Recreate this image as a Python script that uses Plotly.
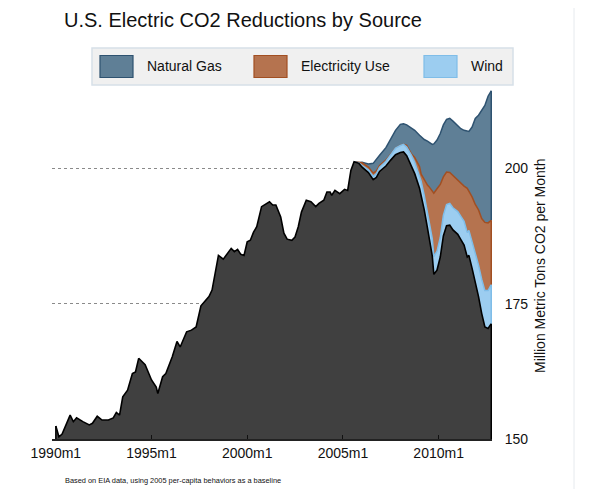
import plotly.graph_objects as go

# ---------------- data ----------------
black_dates = [
    "1990-01", "1990-03", "1990-05", "1990-10", "1990-12", "1991-02", "1991-06", "1991-10", "1991-12",
    "1992-03", "1992-06", "1992-10", "1993-01", "1993-03", "1993-05", "1993-07", "1993-10",
    "1994-01", "1994-03", "1994-05", "1994-09", "1995-01", "1995-04", "1995-05", "1995-08", "1995-10",
    "1996-02", "1996-05", "1996-07", "1996-11", "1997-02", "1997-05", "1997-08", "1997-11",
    "1998-01", "1998-03", "1998-05", "1998-07", "1998-10", "1999-03", "1999-05", "1999-07", "1999-09", "1999-11",
    "2000-01", "2000-03", "2000-05", "2000-07", "2000-10", "2001-01", "2001-03", "2001-05", "2001-07", "2001-10", "2001-12",
    "2002-02", "2002-05", "2002-07", "2002-09", "2002-11", "2003-02", "2003-05", "2003-08", "2003-10",
    "2004-01", "2004-03", "2004-05", "2004-06", "2004-08", "2004-11", "2005-02", "2005-04", "2005-06",
    "2005-08", "2005-11", "2006-01", "2006-05", "2006-08", "2006-10", "2006-12", "2007-04", "2007-07", "2007-10",
    "2008-01", "2008-03", "2008-05", "2008-08", "2008-10", "2009-01", "2009-02", "2009-04", "2009-06", "2009-07",
    "2009-09", "2009-10", "2009-12", "2010-02", "2010-04", "2010-06", "2010-08", "2010-10", "2011-01", "2011-03",
    "2011-05", "2011-07", "2011-08", "2011-10", "2011-12", "2012-02", "2012-04", "2012-06", "2012-08", "2012-10",
]
black_vals = [
    152.4, 150.4, 150.9, 154.4, 153.2, 153.9, 153.2, 152.6, 152.9,
    154.2, 153.5, 153.5, 153.9, 154.9, 154.4, 157.8, 159.0,
    162.1, 162.4, 164.9, 163.7, 160.9, 159.6, 158.4, 161.5, 162.1,
    165.2, 168.0, 167.0, 169.8, 170.1, 170.7, 174.6, 175.6,
    176.3, 177.5, 180.6, 183.9, 183.2, 185.2, 184.6, 185.0, 184.1, 183.9,
    186.4, 186.7, 188.2, 189.2, 192.9, 193.5, 193.8, 193.2, 193.2, 191.0, 188.0,
    186.9, 186.7, 187.3, 189.2, 191.9, 194.1, 193.8, 192.9, 193.5,
    194.1, 195.6, 195.6, 195.0, 195.9, 195.3, 196.1, 195.9, 199.6,
    201.2, 200.9, 200.2, 199.2, 197.9, 198.3, 199.4, 200.4, 201.5, 202.5,
    202.9, 203.0, 202.3, 200.5, 199.0, 196.3, 195.1, 192.3, 189.0, 187.3,
    183.8, 180.4, 181.2, 183.6, 187.5, 189.4, 189.5, 188.6, 187.8, 186.8,
    185.8, 183.6, 183.9, 181.5, 179.0, 176.3, 173.2, 170.7, 170.4, 171.3,
]

# reductions stacked above actual emissions (from 2005m8 on)
rec_dates = black_dates[black_dates.index("2005-08"):]
wind = [0.0, 0.1, 0.3, 0.5, 0.6, 0.7, 0.8, 0.9, 1.0, 1.2,
        1.3, 1.4, 1.6, 1.9, 2.1, 2.4, 2.5, 2.7, 2.9, 3.0,
        3.2, 3.3, 3.5, 3.6, 3.8, 3.9, 4.0, 4.1, 4.2, 4.3,
        4.4, 4.5, 4.6, 4.9, 5.3, 5.8, 6.3, 6.7, 7.0, 7.2]
elec = [0.0, 0.0, 0.5, 0.5, 0.6, 0.5, 0.3, 0.2, 0.1, 0.0,
        0.0, 0.0, 0.3, 0.2, 0.9, 1.6, 1.3, 2.8, 5.0, 6.3,
        8.7, 11.7, 11.5, 9.8, 7.1, 6.0, 5.7, 5.9, 5.8, 6.1,
        6.5, 8.2, 7.3, 8.3, 9.0, 10.2, 11.2, 12.6, 12.5, 11.9]
gas = [0.0, 0.0, 0.1, 0.6, 1.8, 2.2, 1.9, 2.3, 2.8, 3.3,
       3.9, 3.8, 3.8, 4.8, 5.0, 5.8, 6.9, 7.5, 8.1, 8.2,
       8.7, 9.1, 9.0, 9.4, 9.6, 9.7, 10.0, 10.1, 10.0, 10.1,
       10.3, 10.5, 11.0, 12.9, 15.9, 17.5, 19.9, 21.6, 23.4, 23.9]

series_names = ["Natural Gas", "Electricity Use", "Wind"]
x_tickvals = ["1990-01-01", "1995-01-01", "2000-01-01", "2005-01-01", "2010-01-01"]
x_ticktext = ["1990m1", "1995m1", "2000m1", "2005m1", "2010m1"]
y_tickvals = [150, 175, 200]

# ---------------- styles ----------------
FONT = "Liberation Sans, Arial, Helvetica, sans-serif"
C_BLACK_FILL, C_BLACK_LINE = "#404040", "#000000"
C_GAS_FILL, C_GAS_LINE = "#5f7f96", "#2e5270"
C_ELEC_FILL, C_ELEC_LINE = "#b5734f", "#a24f22"
C_WIND_FILL, C_WIND_LINE = "#9ccdf0", "#7fbde8"

# cumulative tops
bmap = dict(zip(black_dates, black_vals))
base = [bmap[d] for d in rec_dates]
wind_top = [b + w for b, w in zip(base, wind)]
elec_top = [t + e for t, e in zip(wind_top, elec)]
gas_top = [t + g for t, g in zip(elec_top, gas)]

fig = go.Figure()
for ys, fc, lc in [(gas_top, C_GAS_FILL, C_GAS_LINE),
                   (elec_top, C_ELEC_FILL, C_ELEC_LINE),
                   (wind_top, C_WIND_FILL, C_WIND_LINE)]:
    fig.add_trace(go.Scatter(x=rec_dates, y=ys, mode="lines", fill="tozeroy",
                             fillcolor=fc, line=dict(color=lc, width=1.5),
                             showlegend=False, hoverinfo="skip"))
fig.add_trace(go.Scatter(x=black_dates, y=black_vals, mode="lines", fill="tozeroy",
                         fillcolor=C_BLACK_FILL, line=dict(color=C_BLACK_LINE, width=1.6),
                         showlegend=False, hoverinfo="skip"))

# vertical outline edges of the areas (from data ends)
last = rec_dates[-1]
for lo, hi, lc in [(elec_top[-1], gas_top[-1], C_GAS_LINE),
                   (wind_top[-1], elec_top[-1], C_ELEC_LINE),
                   (base[-1], wind_top[-1], C_WIND_LINE),
                   (150, base[-1], C_BLACK_LINE)]:
    fig.add_trace(go.Scatter(x=[last, last], y=[lo, hi], mode="lines",
                             line=dict(color=lc, width=1.5), showlegend=False, hoverinfo="skip"))
fig.add_trace(go.Scatter(x=[black_dates[0], black_dates[0]], y=[150, black_vals[0]], mode="lines",
                         line=dict(color=C_BLACK_LINE, width=1.5), showlegend=False, hoverinfo="skip"))

# ---------------- layout ----------------
OFF = 8                      # page body margin of the browser
W, H = 600 - OFF, 489 - OFF
L, T, PW, PH = 52 - OFF, 87 - OFF, 440, 352


def px(x):   # page pixel -> paper x
    return (x - OFF - L) / PW


def py(y):   # page pixel -> paper y
    return (T + PH - (y - OFF)) / PH


shapes = []
annotations = []
# legend box
shapes.append(dict(type="rect", xref="paper", yref="paper", x0=px(92), x1=px(513), y0=py(85), y1=py(48),
                   fillcolor="#f0f0f0", line=dict(color="#d6e0e8", width=1.5), layer="above"))
legend_items = [(100, 145, C_GAS_FILL, C_GAS_LINE),
                (254, 299, C_ELEC_FILL, C_ELEC_LINE),
                (424, 469, C_WIND_FILL, C_WIND_LINE)]
for name, (sx, tx, fc, lc) in zip(series_names, legend_items):
    shapes.append(dict(type="rect", xref="paper", yref="paper", x0=px(sx), x1=px(sx + 33),
                       y0=py(77.5), y1=py(55.5), fillcolor=fc, line=dict(color=lc, width=1.2), layer="above"))
    annotations.append(dict(text=name, xref="paper", yref="paper", x=px(tx), y=py(66.5),
                            xanchor="left", yanchor="middle", showarrow=False,
                            font=dict(family=FONT, size=14, color="#111111")))
# faint right border of the graph region
shapes.append(dict(type="line", xref="paper", yref="paper", x0=px(574), x1=px(574),
                   y0=py(489), y1=py(0), line=dict(color="#e6eaee", width=1)))

annotations.append(dict(text="U.S. Electric CO2 Reductions by Source", xref="paper", yref="paper",
                        x=px(62), y=py(20), xanchor="left", yanchor="middle", showarrow=False,
                        font=dict(family=FONT, size=20, color="#111111")))
annotations.append(dict(text="Million Metric Tons CO2 per Month", xref="paper", yref="paper",
                        x=px(540), y=py(266), xanchor="center", yanchor="middle", textangle=-90,
                        showarrow=False, font=dict(family=FONT, size=14, color="#111111")))
annotations.append(dict(text="Based on EIA data, using 2005 per-capita behaviors as a baseline",
                        xref="paper", yref="paper", x=px(63), y=py(480), xanchor="left", yanchor="middle",
                        showarrow=False, font=dict(family=FONT, size=7.4, color="#111111")))

fig.update_layout(
    width=W, height=H,
    margin=dict(l=L, r=W - L - PW, t=T, b=H - T - PH),
    paper_bgcolor="white", plot_bgcolor="white",
    showlegend=False,
    shapes=shapes, annotations=annotations,
    xaxis=dict(type="date", range=["1989-10-20", "2012-10-15"],
               tickvals=x_tickvals, ticktext=x_ticktext,
               showgrid=False, zeroline=False, showline=True, linecolor="#222222", linewidth=1.5,
               ticks="inside", ticklen=4, tickcolor="#111111", tickwidth=1,
               tickfont=dict(family=FONT, size=14, color="#111111")),
    yaxis=dict(side="right", range=[150, 215], tickvals=y_tickvals,
               showgrid=True, gridcolor="#8a8a8a", griddash="dot", gridwidth=1,
               zeroline=False, showline=False,
               ticks="outside", ticklen=9, tickcolor="rgba(0,0,0,0)",
               tickfont=dict(family=FONT, size=14, color="#111111")),
)

fig.write_html("out.html")
